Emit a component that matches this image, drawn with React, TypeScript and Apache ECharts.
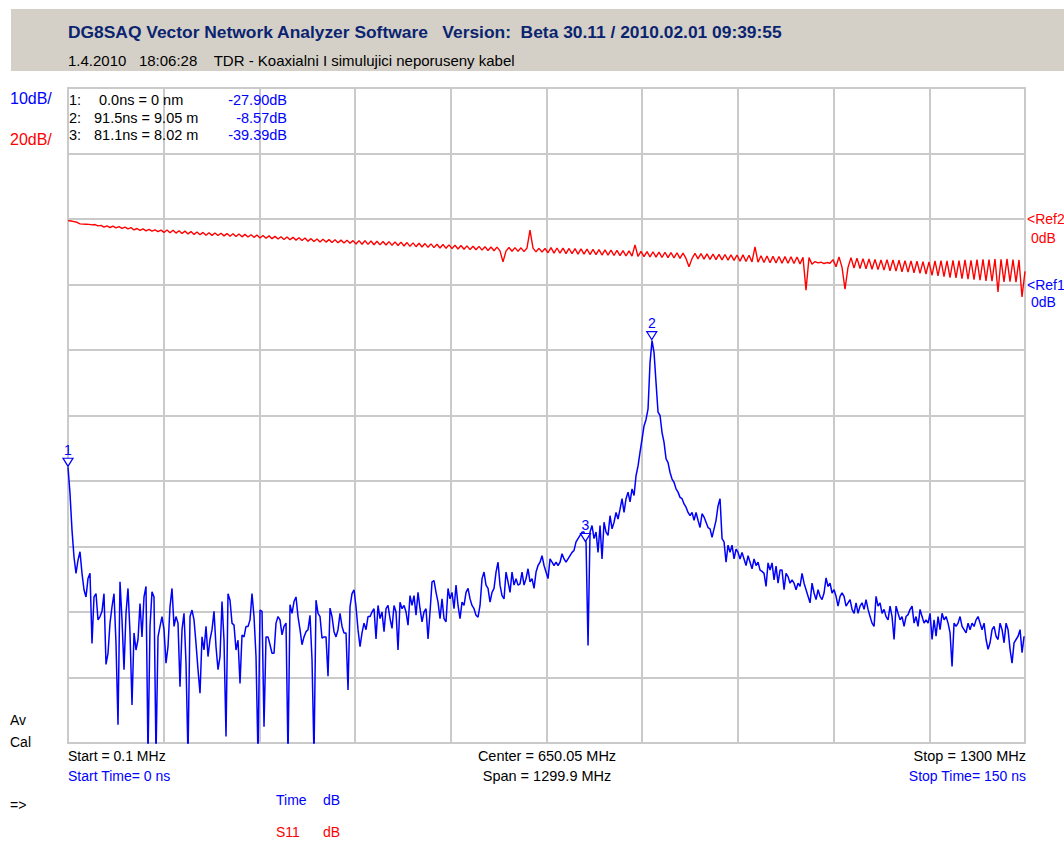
import React, { useEffect, useRef } from "react";
import * as echarts from "echarts";

// ---- sweep grid ----
const TIME_STEP_NS = 0.3135; // time-domain sample spacing (0 .. 150 ns)
const FREQ_START_MHZ = 0.1;
const FREQ_STOP_MHZ = 1300;

// ---- "Time" trace (blue, dB, 10 dB/div, Ref1 = 0 dB) ----
const timeTraceDb = [
  -27.9, -31.9, -37.5, -41.6, -44.1, -42.1, -40.8, -44.1, -46.6, -47.7,
  -44.9, -44.1, -54.8, -47.7, -47.2, -51.2, -50.7, -49.9, -47.2, -58.0,
  -56.3, -51.7, -49.2, -47.2, -54.8, -67.2, -45.4, -51.2, -58.8, -50.2,
  -46.4, -53.2, -64.2, -53.2, -55.8, -54.2, -48.7, -53.8, -47.7, -46.1,
  -72, -52.2, -46.9, -47.7, -72, -53.8, -52.2, -50.7, -52.7, -57.8,
  -55.3, -49.2, -46.4, -52.2, -50.7, -51.7, -61.4, -52.7, -50.2, -57.8,
  -72, -50.7, -49.7, -51.2, -54.8, -58.8, -62.4, -53.8, -55.8, -52.2,
  -56.8, -54.2, -52.7, -49.9, -55.3, -58.8, -56.8, -48.4, -54.3, -69.0,
  -47.2, -48.2, -51.7, -52.0, -55.8, -54.3, -60.9, -53.5, -53.8, -52.2,
  -52.2, -51.2, -47.2, -50.7, -56.8, -72, -49.7, -49.9, -67.5, -53.8,
  -53.8, -55.0, -56.3, -56.3, -51.7, -50.7, -51.2, -53.5, -52.2, -51.7,
  -72, -48.9, -50.2, -48.4, -47.7, -50.7, -52.7, -55.0, -53.8, -53.0,
  -52.7, -50.5, -57.3, -72, -48.2, -50.2, -50.7, -54.0, -53.8, -53.8,
  -59.8, -49.4, -50.7, -53.0, -53.8, -52.7, -50.2, -52.2, -53.2, -53.2,
  -61.9, -49.2, -47.2, -46.6, -49.2, -52.7, -55.3, -53.2, -51.7, -52.7,
  -50.7, -50.7,
  -50.0, -49.5, -54.1, -49.0, -51.0, -50.0, -53.0, -49.5, -49.0, -51.0,
  -52.5, -49.0, -50.0, -55.8, -48.5, -49.5, -49.0, -50.0, -52.0, -47.5,
  -49.0, -47.5, -50.5, -47.0, -49.5, -51.5, -50.0, -49.5, -54.1, -50.0,
  -45.4, -45.2, -47.0, -48.5, -51.0, -48.0, -51.0, -51.5, -46.4, -48.0,
  -47.0, -49.5, -45.9, -49.0, -51.0, -48.5, -49.0, -47.0, -46.4, -48.0,
  -49.0, -49.5, -50.5, -50.8, -49.0, -44.9, -43.9, -45.9, -46.4, -48.5,
  -47.0, -46.4, -43.9, -42.4, -45.9, -47.5, -48.0, -43.9, -45.4, -47.0,
  -43.9, -45.9, -44.9, -45.9, -45.7, -43.9, -45.9, -44.9, -43.4, -45.4,
  -44.9, -46.4, -43.9, -42.9, -42.4, -41.4, -42.9, -43.9, -44.9, -41.9,
  -42.4, -42.9, -42.4, -42.9, -42.4, -41.1, -41.9, -42.4, -41.9, -41.4,
  -40.9, -40.6, -39.3, -38.8, -38.3, -37.8, -37.8, -39.4, -55.1, -37.8,
  -36.8, -38.8, -37.8, -40.9, -36.8, -41.9, -36.3, -37.8, -38.3, -35.3,
  -37.3, -36.3, -34.8, -35.8, -34.3, -32.7, -34.8, -32.7, -31.7, -33.2,
  -31.2, -32.2, -29.2, -27.7, -25.6, -23.6, -21.6, -20.6, -19.0, -11.9,
  -8.57, -10.4, -15.0, -19.5, -20.0, -22.6, -24.1, -26.6, -27.2, -28.7,
  -29.7, -30.2, -31.2, -31.7, -32.5, -32.7, -33.5, -34.0, -34.8, -35.3,
  -34.8, -36.0, -34.8, -36.0, -37.1, -35.0, -35.5, -36.3, -37.1, -37.3,
  -38.6, -37.3, -36.0, -33.8, -32.7, -38.8, -39.3, -42.4, -39.8, -40.9,
  -39.8, -41.9, -40.4, -40.9, -41.9, -40.9, -41.9, -42.9, -41.4, -42.4,
  -43.4, -41.9, -42.9, -42.4,
  -43.6, -43.8, -44.1, -46.1, -42.5, -43.6, -42.5, -45.1, -43.0, -45.6,
  -43.6, -43.6, -46.6, -44.1, -44.6, -45.6, -45.1, -45.6, -46.6, -45.6,
  -46.1, -44.1, -45.6, -46.6, -47.6, -48.6, -45.6, -47.1, -48.1, -46.6,
  -47.6, -48.1, -47.1, -44.8, -46.1, -45.6, -47.1, -46.6, -47.6, -49.1,
  -47.6, -47.1, -47.6, -49.1, -48.6, -48.1, -49.6, -50.2, -48.6, -50.2,
  -49.1, -48.6, -49.6, -48.1, -49.6, -50.7, -51.7, -52.2, -47.6, -49.1,
  -48.6, -50.2, -49.6, -50.7, -51.2, -49.1, -50.7, -54.2, -49.1, -50.2,
  -51.2, -50.7, -52.2, -50.7, -50.4, -49.6, -49.1, -51.7, -50.7, -52.2,
  -49.6, -50.7, -51.7, -51.2, -51.7, -50.2, -54.2, -51.2, -53.7, -50.7,
  -52.7, -50.2, -51.2, -50.7, -51.7, -53.2, -58.3, -51.7, -52.2, -51.7,
  -50.7, -52.2, -52.7, -53.2, -51.7, -52.7, -51.7, -52.2, -51.2, -50.7,
  -51.7, -52.7, -51.7, -54.2, -55.7, -54.7, -52.7, -52.2, -53.7, -54.2,
  -51.7, -52.7, -54.7, -51.7, -52.7, -55.7, -57.8, -54.7, -54.2, -53.7,
  -52.7, -56.2, -53.7,
];

// ---- S11 trace (red, dB, 20 dB/div, Ref2 = 0 dB) ----
const s11TraceDb = [
  -0.5, -0.6, -0.8, -1.0, -1.5, -1.55, -1.6, -1.65, -1.8, -1.7, -2.1,
  -1.95, -2.5, -2.1, -2.6, -2.2, -2.7, -2.35, -2.85, -2.5, -3.0, -2.65,
  -3.35, -2.9, -3.45, -3.0, -3.6, -3.15, -3.7, -3.3, -3.85, -3.4,
  -4.1, -3.35, -4.2, -3.45, -4.3, -3.6, -4.45, -3.7, -4.55, -3.85, -4.7, -3.95, -4.8, -4.1, -4.95, -4.2,
  -5.0, -4.25, -5.05, -4.35, -5.15, -4.45, -5.25, -4.5, -5.35, -4.6, -5.45, -4.7, -5.5, -4.8, -5.6, -4.9,
  -5.8, -5.05, -5.9, -5.15, -6.0, -5.3, -6.1, -5.4, -6.25, -5.5, -6.35, -5.6, -6.45, -5.7, -6.55, -5.8,
  -6.8, -6.0, -6.9, -6.1, -7.0, -6.2, -7.05, -6.3, -7.15, -6.35, -7.25, -6.45, -7.3, -6.5, -7.4, -6.6,
  -7.65, -6.6, -7.7, -6.65, -7.75, -6.7, -7.85, -6.8, -7.9, -6.85, -7.95, -6.9, -8.05, -7.0, -8.1, -7.05,
  -8.25, -7.2, -8.35, -7.3, -8.45, -7.4, -8.55, -7.5, -8.65, -7.6, -8.75, -7.7, -8.85, -7.8, -8.95, -7.9,
  -9.05, -8.0, -9.15, -8.1, -9.25, -8.2, -9.35, -8.3, -9.4, -8.35, -9.5, -8.45, -9.6, -8.55, -9.7, -8.6,
  -9.75, -13.1, -9.8, -8.7, -9.85, -8.75, -9.9, -8.8, -9.95, -8.85, -3.4, -8.9, -10.05, -8.95, -10.1, -9.0,
  -10.3, -8.75, -10.4, -8.85, -10.45, -8.9, -10.55, -9.0, -10.6, -9.05, -10.7, -9.15, -10.75, -9.2, -10.85, -9.3,
  -10.9, -9.35, -11.0, -9.45, -11.05, -9.5, -11.15, -9.6, -11.2, -9.65, -11.3, -9.75, -11.35, -7.9, -11.45, -9.9,
  -11.5, -9.95, -11.6, -10.0, -11.65, -10.1, -11.75, -10.15, -11.8, -10.25, -11.9, -10.3, -12.0, -10.4, -12.05, -14.6,
  -12.1, -10.5, -12.2, -10.55, -12.25, -10.65, -12.35, -10.7, -12.4, -10.8, -12.5, -10.85, -12.55, -10.95, -12.65, -11.0,
  -12.9, -10.95, -13.0, -11.05, -13.1, -8.5, -13.2, -11.2, -13.3, -11.3, -13.35, -11.4, -13.45, -11.45, -13.5, -11.5,
  -13.5, -11.55, -13.6, -11.6, -13.7, -11.7, -21.7, -11.8, -13.8, -13.0, -13.4, -13.2, -13.6, -13.3, -13.5, -12.4,
  -14.6, -11.6, -14.7, -21.4, -14.8, -11.8, -14.95, -11.95, -15.1, -12.1, -15.2, -12.2, -15.35, -12.35, -15.45, -12.5,
  -15.6, -12.4, -15.8, -12.5, -15.9, -12.6, -16.1, -12.7, -16.2, -12.8, -16.4, -12.9, -16.6, -13.0, -16.8, -13.1,
  -17.2, -12.8, -17.4, -12.7, -17.6, -12.8, -17.9, -12.6, -18.0, -12.7, -18.2, -12.5, -18.4, -12.6, -18.5, -12.4,
  -18.7, -12.3, -18.9, -12.4, -19.0, -12.2, -22.3, -12.3, -19.2, -12.2, -19.1, -12.4, -19.3, -12.5, -23.8, -16.0,
];

// ---- markers ----
const markerLabels = ["1", "2", "3"];
const markerTimesNs = [0.0, 91.5, 81.1];
const markerValuesDb = [-27.9, -8.57, -39.39];
const markerDistances = ["0 nm", "9.05 m", "8.02 m"];
const markerValueTexts = ["-27.90dB", "-8.57dB", "-39.39dB"];

const FONT = '"Liberation Sans", Arial, sans-serif';
const BLUE = "#0000ff";
const RED = "#ff0000";
const GRIDC = "#cacaca";

function txt(text: string, x: number, y: number, fill: string, size = 14, align = "left", weight = "normal") {
  return {
    type: "text",
    x,
    y,
    silent: true,
    z: 10,
    style: {
      text,
      fill,
      font: `${weight} ${size}px ${FONT}`,
      textAlign: align,
      textVerticalAlign: "middle",
    },
  };
}

export default function App() {
  const ref = useRef<HTMLDivElement>(null);

  useEffect(() => {
    const chart = echarts.init(ref.current!, null, { renderer: "svg" });
    const blueData = timeTraceDb.map((v, i) => [i * TIME_STEP_NS, v]);
    const freqStep = (FREQ_STOP_MHZ - FREQ_START_MHZ) / (s11TraceDb.length - 1);
    const redData = s11TraceDb.map((v, j) => [FREQ_START_MHZ + j * freqStep, v]);

    const markerRows: any[] = [];
    const rowY = [100, 117.5, 135];
    const rowX = [99, 94, 94];
    markerLabels.forEach((lab, k) => {
      markerRows.push(txt(`${lab}:`, 69, rowY[k], "#000", 14.5));
      markerRows.push(txt(`${markerTimesNs[k].toFixed(1)}ns = ${markerDistances[k]}`, rowX[k], rowY[k], "#000", 14.5));
      markerRows.push(txt(markerValueTexts[k], 287, rowY[k], BLUE, 14.5, "right"));
    });

    const graphics: any[] = [
      { type: "rect", silent: true, z: 0, shape: { x: 11, y: 9, width: 1053, height: 62 }, style: { fill: "#d4d0c8" } },
      txt("DG8SAQ Vector Network Analyzer Software   Version:  Beta 30.11 / 2010.02.01 09:39:55", 68, 32, "#0b2470", 17.4, "left", "bold"),
      txt("1.4.2010   18:06:28    TDR - Koaxialni I simulujici neporuseny kabel", 68, 60, "#000", 15),
      txt("10dB/", 10, 98, BLUE, 16),
      txt("20dB/", 10, 139, RED, 16),
      ...markerRows,
      txt("<Ref2", 1027, 219, RED),
      txt("0dB", 1031, 238, RED),
      txt("<Ref1", 1027, 285, BLUE),
      txt("0dB", 1031, 302, BLUE),
      txt("Av", 10, 720, "#000"),
      txt("Cal", 10, 742, "#000"),
      txt("Start = 0.1 MHz", 68, 756, "#000"),
      txt("Start Time= 0 ns", 68, 776, BLUE),
      txt("Center = 650.05 MHz", 547, 756, "#000", 14.5, "center"),
      txt("Span = 1299.9 MHz", 547, 776, "#000", 14.5, "center"),
      txt("Stop = 1300 MHz", 1026, 756, "#000", 14.5, "right"),
      txt("Stop Time= 150 ns", 1026, 776, BLUE, 14, "right"),
      txt("=>", 10, 805, "#000"),
      txt("Time", 276, 800, BLUE),
      txt("dB", 323, 800, BLUE),
      txt("S11", 276, 832, RED),
      txt("dB", 323, 832, RED),
    ];

    chart.setOption({
      animation: false,
      backgroundColor: "#ffffff",
      grid: {
        left: 68,
        top: 88,
        width: 957,
        height: 655,
        show: true,
        borderColor: GRIDC,
        borderWidth: 2,
        backgroundColor: "transparent",
      },
      xAxis: [
        {
          type: "value",
          min: 0,
          max: 150,
          interval: 15,
          axisLine: { show: false },
          axisTick: { show: false },
          axisLabel: { show: false },
          splitLine: { show: true, lineStyle: { color: GRIDC, width: 2 } },
        },
        {
          type: "value",
          min: FREQ_START_MHZ,
          max: FREQ_STOP_MHZ,
          show: false,
          splitLine: { show: false },
        },
      ],
      yAxis: [
        {
          type: "value",
          min: -70,
          max: 30,
          interval: 10,
          axisLine: { show: false },
          axisTick: { show: false },
          axisLabel: { show: false },
          splitLine: { show: true, lineStyle: { color: GRIDC, width: 2 } },
        },
        {
          type: "value",
          min: -160,
          max: 40,
          interval: 20,
          show: false,
          splitLine: { show: false },
        },
      ],
      series: [
        {
          name: "S11",
          type: "line",
          xAxisIndex: 1,
          yAxisIndex: 1,
          data: redData,
          showSymbol: false,
          symbol: "none",
          lineStyle: { color: RED, width: 1.4 },
          clip: true,
          z: 3,
        },
        {
          name: "Time",
          type: "line",
          xAxisIndex: 0,
          yAxisIndex: 0,
          data: blueData,
          showSymbol: false,
          symbol: "none",
          lineStyle: { color: BLUE, width: 1.5 },
          clip: true,
          z: 4,
          markPoint: {
            symbol: "path://M0,0 L10,0 L5,8 Z",
            symbolSize: [10, 8],
            symbolOffset: [0, -5],
            itemStyle: { color: "#ffffff", borderColor: BLUE, borderWidth: 1.2 },
            label: {
              show: true,
              position: "top",
              distance: 1,
              formatter: "{b}",
              color: BLUE,
              fontSize: 14,
              fontFamily: FONT,
            },
            data: markerLabels.map((lab, k) => ({
              name: lab,
              coord: [markerTimesNs[k], markerValuesDb[k]],
            })),
          },
        },
      ],
      graphic: { elements: graphics },
    });

    return () => chart.dispose();
  }, []);

  return (
    <div
      ref={ref}
      style={{ position: "absolute", left: 0, top: 0, width: 1064, height: 841, background: "#fff" }}
    />
  );
}
